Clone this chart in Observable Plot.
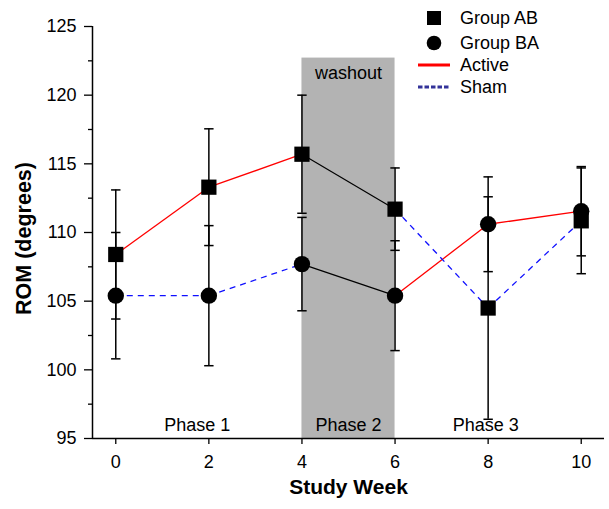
<!DOCTYPE html>
<html>
<head>
<meta charset="utf-8">
<script src="https://cdn.jsdelivr.net/npm/d3@7"></script>
<script src="https://cdn.jsdelivr.net/npm/@observablehq/plot@0.6"></script>
<style>
  html, body { margin: 0; padding: 0; background: #fff; }
  #wrap { position: relative; width: 609px; height: 509px; font-family: "Liberation Sans", Arial, sans-serif; }
  #legend { position: absolute; left: 0; top: 0; width: 609px; height: 100px; pointer-events: none; }
  .li { position: absolute; font-size: 18px; color: #000; line-height: 18px; white-space: nowrap; }
</style>
</head>
<body>
<div id="wrap">
  <div id="chart"></div>
  <div id="legend"></div>
</div>
<script>
// ---- data ----
const weeks = [0, 2, 4, 6, 8, 10];
const abMean = [108.4, 113.3, 115.7, 111.7, 104.5, 110.85];
const abErr  = [4.7, 4.25, 4.3, 3.0, 8.1, 3.85];
const baMean = [105.4, 105.4, 107.7, 105.4, 110.6, 111.55];
const baErr  = [4.6, 5.1, 3.4, 4.0, 3.45, 3.25];
const abCondition = ["Active", "Active", "Washout", "Sham", "Sham"];
const baCondition = ["Sham", "Sham", "Washout", "Active", "Active"];
const yTicks = [95, 100, 105, 110, 115, 120, 125];
const yMinorTicks = [97.5, 102.5, 107.5, 112.5, 117.5, 122.5];
const xTicks = [0, 2, 4, 6, 8, 10];
const xDomain = [-0.5, 10.5];
const yDomain = [95, 125];
const washoutStart = 4, washoutEnd = 6, washoutTop = 122.7;
const phaseLabels = ["Phase 1", "Phase 2", "Phase 3"];
const phaseX = [1.75, 5, 7.95];

// ---- derived tables ----
const points = [
  ...weeks.map((w, i) => ({group: "AB", week: w, mean: abMean[i], err: abErr[i]})),
  ...weeks.map((w, i) => ({group: "BA", week: w, mean: baMean[i], err: baErr[i]}))
];
function segs(means, conds) {
  return conds.map((c, i) => ({x1: weeks[i], y1: means[i], x2: weeks[i + 1], y2: means[i + 1], cond: c}));
}
const segments = [...segs(abMean, abCondition), ...segs(baMean, baCondition)];
const phases = phaseLabels.map((t, i) => ({label: t, x: phaseX[i], y: yDomain[0]}));
const band = [{x1: washoutStart, x2: washoutEnd, y1: yDomain[0], y2: washoutTop}];

const capSymbol = {
  draw(ctx, size) {
    const r = Math.sqrt(size / Math.PI);
    ctx.moveTo(-r, 0); ctx.lineTo(r, 0);
  }
};
const caps = points.flatMap(d => [{week: d.week, v: d.mean - d.err}, {week: d.week, v: d.mean + d.err}]);

const chart = Plot.plot({
  width: 609,
  height: 509,
  marginLeft: 92,
  marginRight: 5,
  marginTop: 26,
  marginBottom: 71,
  style: {fontFamily: "Liberation Sans, Arial, sans-serif", fontSize: "18px", background: "white", overflow: "visible"},
  x: {domain: xDomain},
  y: {domain: yDomain},
  marks: [
    Plot.rect(band, {x1: "x1", x2: "x2", y1: "y1", y2: "y2", fill: "#b3b3b3"}),
    Plot.text(phases, {x: "x", y: "y", text: "label", dy: -13, fontSize: 18, fill: "#000"}),
    Plot.text(["washout"], {x: (washoutStart + washoutEnd) / 2, y: washoutTop, text: d => d, dy: 15, fontSize: 18, fill: "#000"}),
    Plot.link(segments.filter(d => d.cond === "Washout"), {x1: "x1", y1: "y1", x2: "x2", y2: "y2", stroke: "#000", strokeWidth: 1.2}),
    Plot.link(segments.filter(d => d.cond === "Active"), {x1: "x1", y1: "y1", x2: "x2", y2: "y2", stroke: "#ff0000", strokeWidth: 1.3}),
    Plot.link(segments.filter(d => d.cond === "Sham"), {x1: "x1", y1: "y1", x2: "x2", y2: "y2", stroke: "#1010ff", strokeWidth: 1.3, strokeDasharray: "6,5"}),
    Plot.ruleX(points, {x: "week", y1: d => d.mean - d.err, y2: d => d.mean + d.err, stroke: "#000", strokeWidth: 1.5}),
    Plot.dot(caps, {x: "week", y: "v", symbol: capSymbol, r: 4.7, stroke: "#000", strokeWidth: 1.5, fill: "none"}),
    Plot.dot(points.filter(d => d.group === "AB"), {x: "week", y: "mean", symbol: "square", r: 8.6, fill: "#000", stroke: "none"}),
    Plot.dot(points.filter(d => d.group === "BA"), {x: "week", y: "mean", symbol: "circle", r: 8.2, fill: "#000", stroke: "none"}),
    Plot.ruleX([xDomain[0]], {stroke: "#000", strokeWidth: 1.5}),
    Plot.ruleY([yDomain[0]], {stroke: "#000", strokeWidth: 1.5}),
    Plot.axisY({ticks: yTicks, tickSize: 8, tickPadding: 8, fontSize: 18, label: null, tickFormat: d => String(d), strokeWidth: 1.3}),
    Plot.axisY({ticks: yMinorTicks, tickSize: 4, text: null, label: null, strokeWidth: 1.3}),
    Plot.axisX({ticks: xTicks, tickSize: 6, tickPadding: 11, fontSize: 18, label: null, tickFormat: d => String(d), strokeWidth: 1.3}),
    Plot.text(["ROM (degrees)"], {frameAnchor: "left", textAnchor: "middle", text: d => d, rotate: -90, dx: -68, dy: 6, fontWeight: "bold", fontSize: 21.5, fill: "#000"}),
    Plot.text(["Study Week"], {frameAnchor: "bottom", textAnchor: "middle", text: d => d, dy: 55, fontWeight: "bold", fontSize: 21, fill: "#000"})
  ]
});
document.getElementById("chart").appendChild(chart);

// ---- legend (HTML overlay) ----
const legendItems = [
  {label: "Group AB", kind: "square", y: 18},
  {label: "Group BA", kind: "circle", y: 43},
  {label: "Active", kind: "active", y: 65},
  {label: "Sham", kind: "sham", y: 87}
];
const legend = document.getElementById("legend");
for (const it of legendItems) {
  const icon = document.createElementNS("http://www.w3.org/2000/svg", "svg");
  icon.setAttribute("width", 40); icon.setAttribute("height", 20);
  icon.style.position = "absolute"; icon.style.left = "414px"; icon.style.top = (it.y - 10) + "px";
  let s = "";
  if (it.kind === "square") s = '<rect x="13" y="3" width="14" height="14" fill="#000"/>';
  else if (it.kind === "circle") s = '<circle cx="20" cy="10" r="7.3" fill="#000"/>';
  else if (it.kind === "active") s = '<line x1="4" x2="36" y1="10" y2="10" stroke="#ff0000" stroke-width="3"/>';
  else s = '<line x1="4" x2="36" y1="10" y2="10" stroke="#333399" stroke-width="3" stroke-dasharray="4.5,2"/>';
  icon.innerHTML = s;
  legend.appendChild(icon);
  const t = document.createElement("div");
  t.className = "li"; t.textContent = it.label;
  t.style.left = "460px"; t.style.top = (it.y - 9) + "px";
  legend.appendChild(t);
}
</script>
</body>
</html>
